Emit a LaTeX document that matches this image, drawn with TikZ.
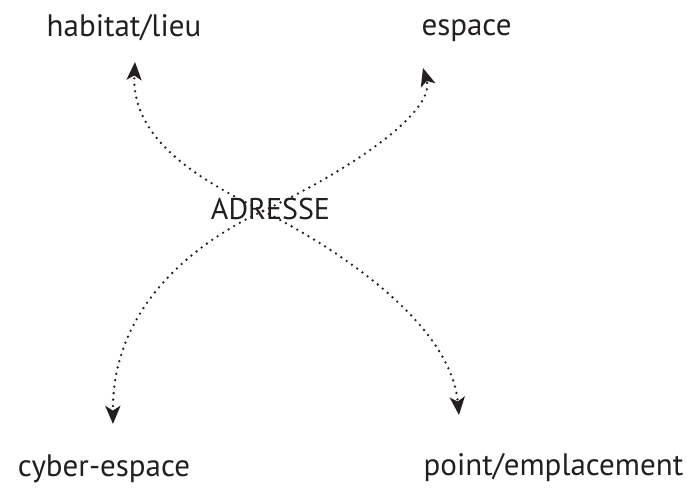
\documentclass[tikz,border=0pt]{standalone}
\usepackage{fontspec}
\setmainfont{PT Sans}
\usetikzlibrary{arrows.meta}
\definecolor{ink}{HTML}{231F20}
\begin{document}
\begin{tikzpicture}[x=1pt, y=-1pt, every node/.style={inner sep=0pt, anchor=base, text=ink, font=\fontsize{31}{36}\selectfont},
    dotline/.style={ink, line width=2.6pt, line cap=round, dash pattern=on 0pt off 6.5pt, -{Stealth[length=18pt, width=15pt, inset=4.5pt]}}]
            \useasboundingbox (0,0) rectangle (697,492);
            \node (hab) at (124,37) {habitat/lieu};
            \node (esp) at (466.5,36) {espace};
            \node (cyb) at (104,476) {cyber-espace};
            \node (pt) at (553.5,475) {point/emplacement};
            \node[font=\fontsize{30}{36}\selectfont] (adr) at (270.5,220) {ADRESSE};
            \coordinate (x) at (263,211);
            \coordinate (tl) at (135,62);
            \coordinate (tr) at (423,68);
            \coordinate (bl) at (113,424);
            \coordinate (br) at (459,415);
            \draw[dotline] (x) .. controls (200,180) and (131,140) .. (tl);
            \draw[dotline] (x) .. controls (350,170) and (436,112) .. (tr);
            \draw[dotline] (x) .. controls (190,245) and (112,310) .. (bl);
            \draw[dotline] (x) .. controls (330,245) and (450,320) .. (br);
        \end{tikzpicture}
\end{document}
